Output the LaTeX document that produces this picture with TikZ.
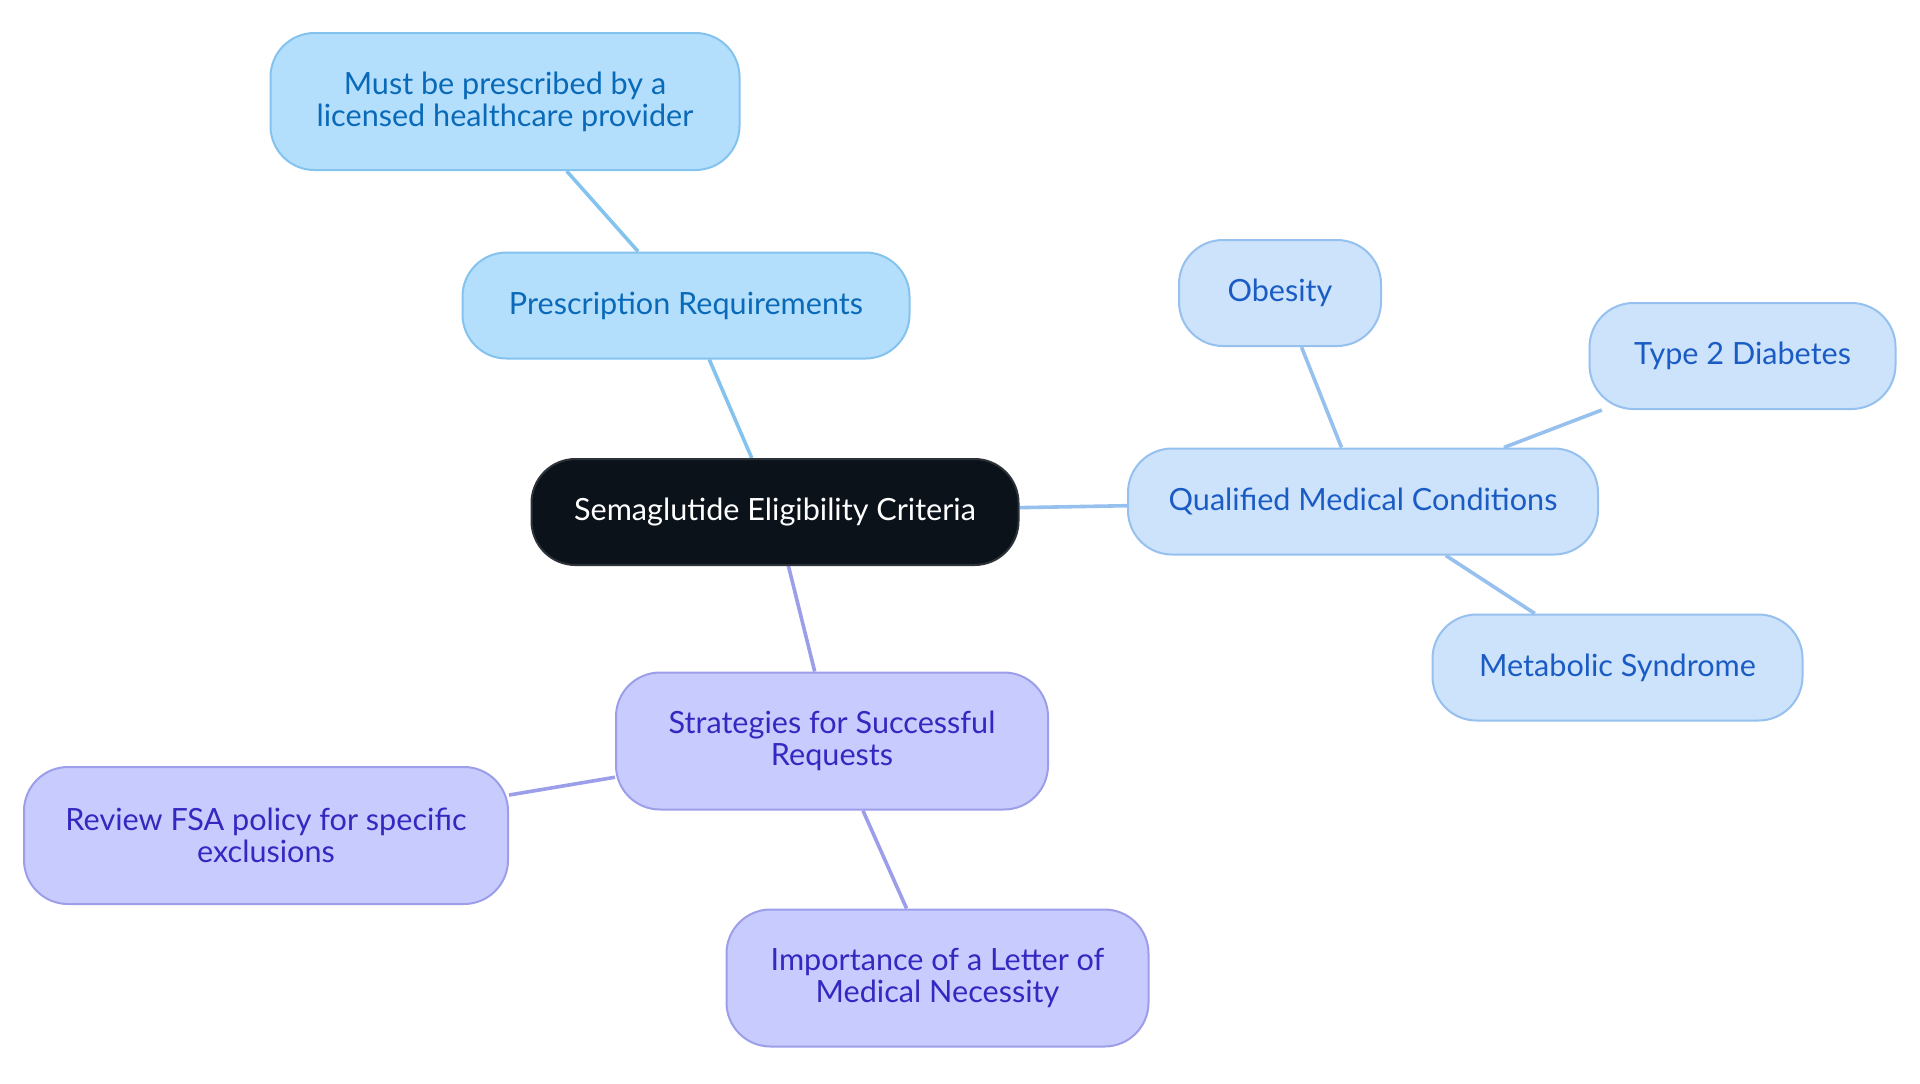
\documentclass[tikz,border=0pt]{standalone}
\usepackage{fontspec}
\setmainfont{Lato}
\usepackage{tikz}
\usetikzlibrary{shapes, backgrounds}

\definecolor{radicefill}{HTML}{0B121A}
\definecolor{radicebordo}{HTML}{2C3239}
\definecolor{prescfill}{HTML}{B3DFFC}
\definecolor{prescbordo}{HTML}{85C3EF}
\definecolor{presctesto}{HTML}{0A6AB8}
\definecolor{condfill}{HTML}{CCE3FB}
\definecolor{condbordo}{HTML}{96C0EE}
\definecolor{condtesto}{HTML}{1B5CC4}
\definecolor{stratfill}{HTML}{C8CBFD}
\definecolor{stratbordo}{HTML}{9D9EE9}
\definecolor{strattesto}{HTML}{3527C0}

\begin{document}
\begin{tikzpicture}[x=0.5pt, y=-0.5pt,
	every node/.style={font=\fontsize{15.3}{16}\selectfont, align=center, inner sep=0pt},
	radice/.style={rectangle, rounded corners=22pt, draw=radicebordo, line width=1pt, fill=radicefill, text=white, minimum width=243.5pt, minimum height=53pt},
	presc/.style={rectangle, rounded corners=22pt, draw=prescbordo, line width=1pt, fill=prescfill, text=presctesto, minimum height=53pt},
	cond/.style={rectangle, rounded corners=22pt, draw=condbordo, line width=1pt, fill=condfill, text=condtesto, minimum height=53pt},
	strat/.style={rectangle, rounded corners=22pt, draw=stratbordo, line width=1pt, fill=stratfill, text=strattesto, minimum height=68.5pt},
	link/.style={line width=1.8pt}]
	\useasboundingbox (0,0) rectangle (1920,1083);

	% Nodo centrale
	\node[radice] (crit) at (775,512) {Semaglutide Eligibility Criteria};

	% Ramo prescrizione
	\node[presc, minimum width=223.5pt] (prescr) at (686,305.5) {Prescription Requirements};
	\node[presc, minimum width=234.5pt, minimum height=68.5pt] (medico) at (505,101.5) {Must be prescribed by a\\licensed healthcare provider};

	% Ramo condizioni
	\node[cond, minimum width=235pt] (condiz) at (1363,501.5) {Qualified Medical Conditions};
	\node[cond, minimum width=101pt] (obes) at (1280,293) {Obesity};
	\node[cond, minimum width=153pt] (diab) at (1742.5,356) {Type 2 Diabetes};
	\node[cond, minimum width=185pt] (metab) at (1617.5,667.5) {Metabolic Syndrome};

	% Ramo strategie
	\node[strat, minimum width=216pt] (strat) at (832,741) {Strategies for Successful\\Requests};
	\node[strat, minimum width=242pt] (fsa) at (266,835.5) {Review FSA policy for specific\\exclusions};
	\node[strat, minimum width=211pt] (lettera) at (937.5,978) {Importance of a Letter of\\Medical Necessity};

	% Collegamenti
	\begin{scope}[on background layer]
		\draw[link, prescbordo] (crit) -- (prescr);
		\draw[link, prescbordo] (prescr) -- (medico);
		\draw[link, condbordo] (crit) -- (condiz);
		\draw[link, condbordo] (condiz) -- (obes);
		\draw[link, condbordo] (condiz) -- (diab);
		\draw[link, condbordo] (condiz) -- (metab);
		\draw[link, stratbordo] (crit) -- (strat);
		\draw[link, stratbordo] (strat) -- (fsa);
		\draw[link, stratbordo] (strat) -- (lettera);
	\end{scope}
\end{tikzpicture}
\end{document}
